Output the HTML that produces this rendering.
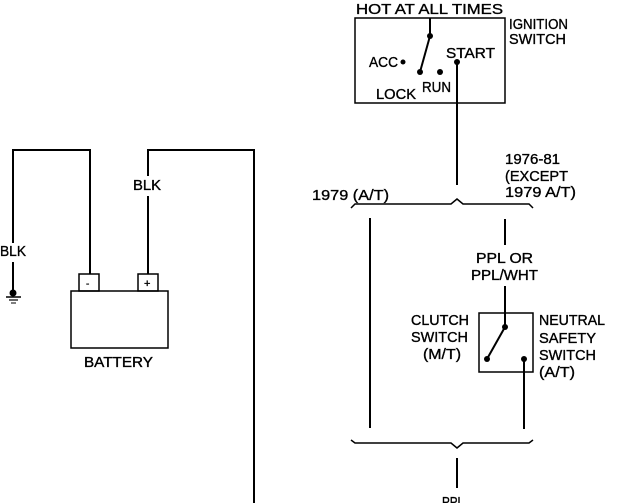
<!DOCTYPE html>
<html><head><style>
html,body{margin:0;padding:0;background:#fff;overflow:hidden;}
svg{display:block;}
text{font-family:"Liberation Sans",sans-serif;font-size:14.5px;fill:#000;stroke:#000;stroke-width:0.35px;}
</style></head><body>
<svg width="623" height="503" viewBox="0 0 623 503" xmlns="http://www.w3.org/2000/svg">
<g stroke="#000" stroke-width="2" fill="none">
<rect x="355" y="18" width="150" height="85" stroke-width="1.5"/>
<line x1="430" y1="18" x2="430" y2="36"/>
<line x1="430" y1="36" x2="420" y2="72"/>
<line x1="457" y1="62" x2="457" y2="185"/>
<path d="M351 208 L355 204 L451 204 L457 199 L463 204 L529 204 L533 208" stroke-width="1.5"/>
<line x1="370" y1="218" x2="370" y2="428"/>
<line x1="505" y1="219" x2="505" y2="245"/>
<line x1="505" y1="286" x2="505" y2="327"/>
<rect x="479" y="313" width="54" height="59" stroke-width="1.5"/>
<line x1="505" y1="327" x2="487" y2="359"/>
<line x1="524" y1="359" x2="524" y2="429"/>
<path d="M351 440 L355 443 L451 443 L457 448 L463 443 L529 443 L533 440" stroke-width="1.5"/>
<line x1="457" y1="458" x2="457" y2="488"/>
<polyline points="13,243 13,150 90,150 90,274"/>
<polyline points="148,274 148,196"/>
<polyline points="148,176 148,150 254,150 254,503"/>
<rect x="71" y="291" width="97" height="57" stroke-width="1.5"/>
<rect x="79" y="274" width="20" height="17" stroke-width="1.5"/>
<rect x="138" y="274" width="20" height="17" stroke-width="1.5"/>
<line x1="13" y1="262" x2="13" y2="294"/>
<line x1="6" y1="297" x2="21" y2="297" stroke-width="1.5"/>
<line x1="9" y1="300" x2="18" y2="300" stroke-width="1.2"/>
<line x1="11" y1="303" x2="16" y2="303" stroke-width="1"/>
</g>
<g fill="#000">
<circle cx="430" cy="36" r="3"/><circle cx="420" cy="72" r="3"/><circle cx="440" cy="72" r="3"/>
<circle cx="403" cy="62" r="2.5"/><circle cx="457" cy="62" r="3"/>
<circle cx="505" cy="327" r="3"/><circle cx="487" cy="359" r="3"/><circle cx="524" cy="359" r="3"/>
<circle cx="13" cy="293" r="3.5"/>
</g>
<g>
<text x="356" y="14" textLength="147" lengthAdjust="spacingAndGlyphs">HOT AT ALL TIMES</text>
<text x="509" y="29" textLength="59" lengthAdjust="spacingAndGlyphs">IGNITION</text>
<text x="509" y="44" textLength="57" lengthAdjust="spacingAndGlyphs">SWITCH</text>
<text x="446" y="58" textLength="49" lengthAdjust="spacingAndGlyphs">START</text>
<text x="369" y="67" textLength="29" lengthAdjust="spacingAndGlyphs">ACC</text>
<text x="376" y="99" textLength="40" lengthAdjust="spacingAndGlyphs">LOCK</text>
<text x="422" y="92" textLength="29" lengthAdjust="spacingAndGlyphs">RUN</text>
<text x="505" y="164" textLength="55" lengthAdjust="spacingAndGlyphs">1976-81</text>
<text x="505" y="181" textLength="63" lengthAdjust="spacingAndGlyphs">(EXCEPT</text>
<text x="505" y="197" textLength="71" lengthAdjust="spacingAndGlyphs">1979 A/T)</text>
<text x="312" y="200" textLength="77" lengthAdjust="spacingAndGlyphs">1979 (A/T)</text>
<text x="476" y="263" textLength="57" lengthAdjust="spacingAndGlyphs">PPL OR</text>
<text x="471" y="280" textLength="67" lengthAdjust="spacingAndGlyphs">PPL/WHT</text>
<text x="411" y="325" textLength="58" lengthAdjust="spacingAndGlyphs">CLUTCH</text>
<text x="411" y="342" textLength="57" lengthAdjust="spacingAndGlyphs">SWITCH</text>
<text x="423" y="359" textLength="38" lengthAdjust="spacingAndGlyphs">(M/T)</text>
<text x="539" y="325" textLength="66" lengthAdjust="spacingAndGlyphs">NEUTRAL</text>
<text x="539" y="343" textLength="57" lengthAdjust="spacingAndGlyphs">SAFETY</text>
<text x="539" y="360" textLength="57" lengthAdjust="spacingAndGlyphs">SWITCH</text>
<text x="539" y="377" textLength="36" lengthAdjust="spacingAndGlyphs">(A/T)</text>
<text x="442" y="507" textLength="22" lengthAdjust="spacingAndGlyphs">PPL</text>
<text x="0" y="256" textLength="26" lengthAdjust="spacingAndGlyphs">BLK</text>
<text x="133" y="190" textLength="28" lengthAdjust="spacingAndGlyphs">BLK</text>
<text x="84" y="367" textLength="69" lengthAdjust="spacingAndGlyphs">BATTERY</text>
<text x="86" y="287" style="font-size:10px">-</text>
<text x="144" y="287" style="font-size:11px">+</text>
</g>
</svg>
</body></html>
